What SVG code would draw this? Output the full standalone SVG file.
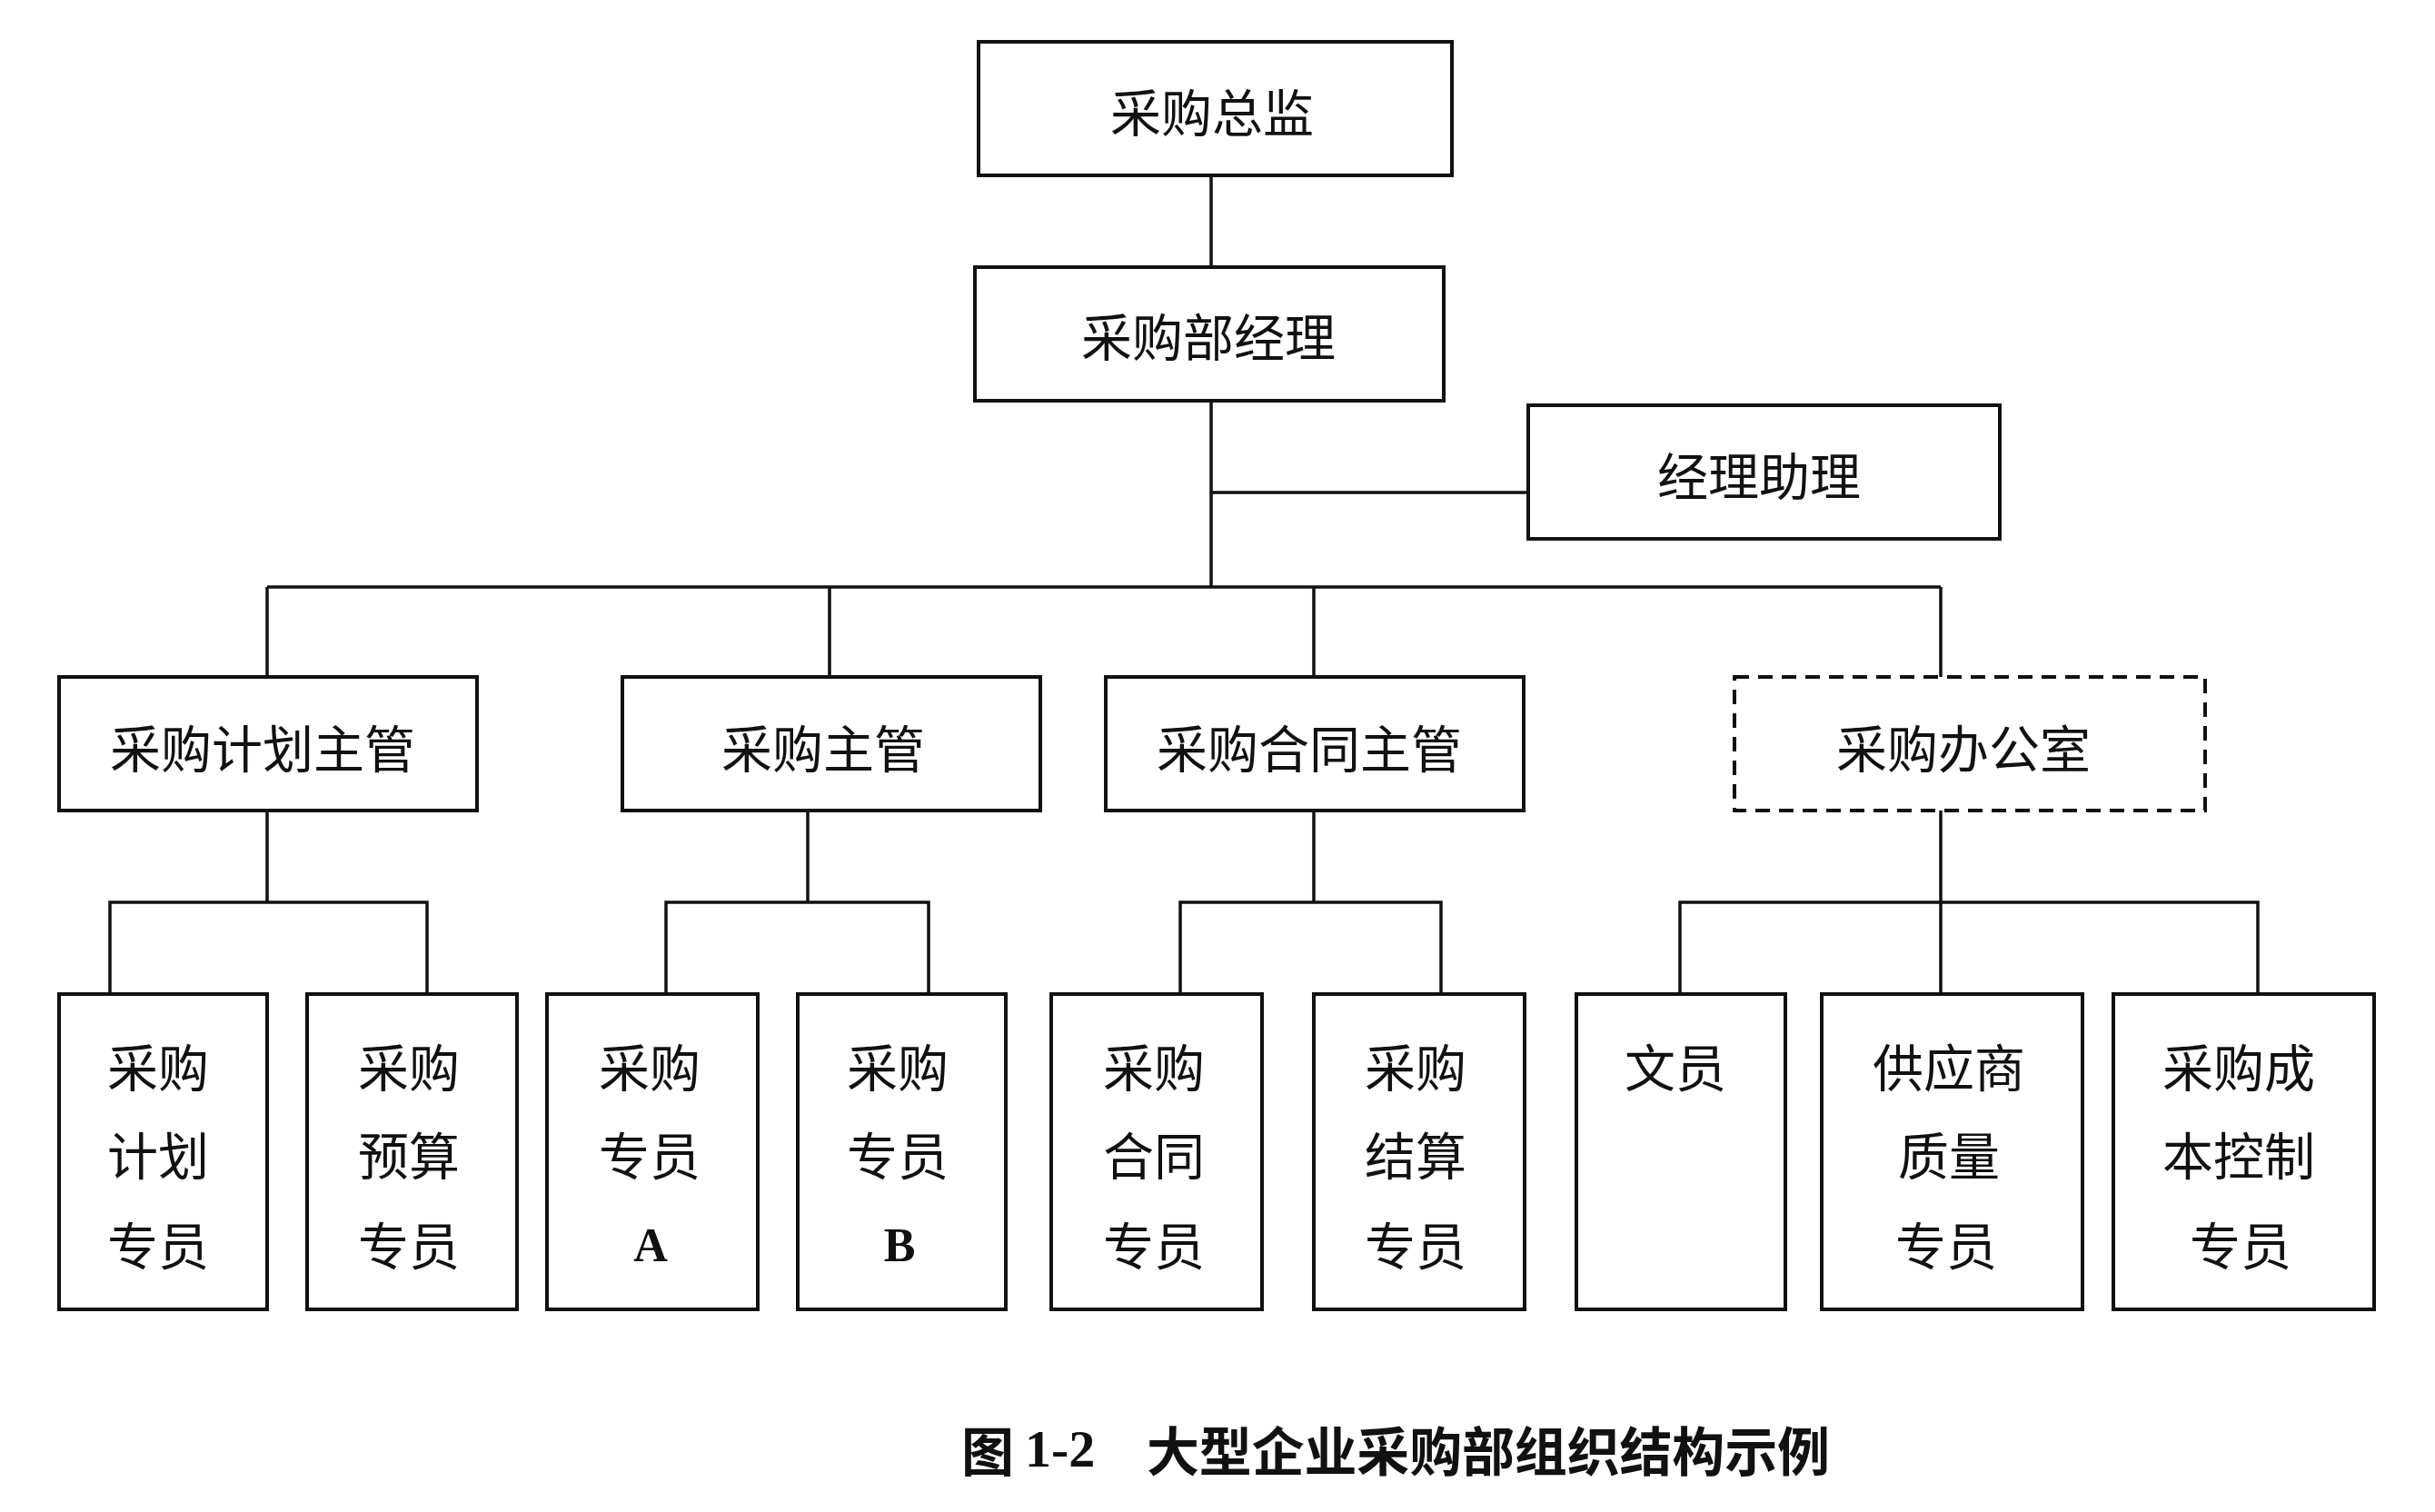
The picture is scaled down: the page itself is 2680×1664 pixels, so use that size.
<svg xmlns="http://www.w3.org/2000/svg" width="2680" height="1664" viewBox="0 0 2680 1664">
<style>
.box{fill:#fff;stroke:#111;stroke-width:4}
.dash{fill:#fff;stroke:#111;stroke-width:4;stroke-dasharray:16 10}
.t{font-family:"Noto Sans CJK SC","Noto Sans",sans-serif;font-size:56px;fill:#111;text-anchor:middle;dominant-baseline:central}
.s{font-family:"Liberation Serif","Noto Sans CJK SC",serif;font-size:52px;font-weight:bold;fill:#111;text-anchor:middle;dominant-baseline:central}
.cap{font-family:"Noto Sans CJK SC",sans-serif;font-size:58px;font-weight:bold;fill:#111;dominant-baseline:central}
.capn{font-family:"Liberation Serif",serif;font-size:58px;font-weight:bold;fill:#111;dominant-baseline:central}
.ln{fill:none;stroke:#111;stroke-width:3.5}
</style>
<rect width="2680" height="1664" fill="#fff"/>
<g id="connectors" class="ln">
<path d="M1333 193V294"/>
<path d="M1333 441V646"/>
<path d="M1333 542H1682"/>
<path d="M294 646H2136"/>
<path d="M294 646V745M913 646V745M1446 646V745M2136 646V745"/>
<path d="M294 892V993M889 892V993M1446 892V993M2136 892V993"/>
<path d="M121 1094V993H470V1094"/>
<path d="M733 1094V993H1022V1094"/>
<path d="M1299 1094V993H1586V1094"/>
<path d="M1849 1094V993H2485V1094M2136 993V1094"/>
</g>
<g id="n-director"><rect class="box" x="1077" y="46" width="521" height="147"/><text class="t" x="1334" y="120">采购总监</text></g>
<g id="n-manager"><rect class="box" x="1073" y="294" width="516" height="147"/><text class="t" x="1330" y="367">采购部经理</text></g>
<g id="n-assistant"><rect class="box" x="1682" y="446" width="519" height="147"/><text class="t" x="1936" y="520">经理助理</text></g>
<g id="n-plan"><rect class="box" x="65" y="745" width="460" height="147"/><text class="t" x="289" y="820">采购计划主管</text></g>
<g id="n-purchase"><rect class="box" x="685" y="745" width="460" height="147"/><text class="t" x="906" y="820">采购主管</text></g>
<g id="n-contract"><rect class="box" x="1217" y="745" width="460" height="147"/><text class="t" x="1441" y="820">采购合同主管</text></g>
<g id="n-office"><rect class="dash" x="1909" y="745" width="518" height="147"/><text class="t" x="2161" y="820">采购办公室</text></g>
<g id="n-s1"><rect class="box" x="65" y="1094" width="229" height="347"/><text class="t" x="174" y="1171">采购</text><text class="t" x="174" y="1268">计划</text><text class="t" x="174" y="1367">专员</text></g>
<g id="n-s2"><rect class="box" x="338" y="1094" width="231" height="347"/><text class="t" x="450" y="1171">采购</text><text class="t" x="450" y="1268">预算</text><text class="t" x="450" y="1367">专员</text></g>
<g id="n-s3"><rect class="box" x="602" y="1094" width="232" height="347"/><text class="t" x="715" y="1171">采购</text><text class="t" x="715" y="1268">专员</text><text class="s" x="716" y="1370">A</text></g>
<g id="n-s4"><rect class="box" x="878" y="1094" width="229" height="347"/><text class="t" x="988" y="1171">采购</text><text class="t" x="988" y="1268">专员</text><text class="s" x="990" y="1370">B</text></g>
<g id="n-s5"><rect class="box" x="1157" y="1094" width="232" height="347"/><text class="t" x="1270" y="1171">采购</text><text class="t" x="1270" y="1268">合同</text><text class="t" x="1270" y="1367">专员</text></g>
<g id="n-s6"><rect class="box" x="1446" y="1094" width="232" height="347"/><text class="t" x="1558" y="1171">采购</text><text class="t" x="1558" y="1268">结算</text><text class="t" x="1558" y="1367">专员</text></g>
<g id="n-s7"><rect class="box" x="1735" y="1094" width="230" height="347"/><text class="t" x="1844" y="1171">文员</text></g>
<g id="n-s8"><rect class="box" x="2005" y="1094" width="287" height="347"/><text class="t" x="2145" y="1171">供应商</text><text class="t" x="2145" y="1268">质量</text><text class="t" x="2142" y="1367">专员</text></g>
<g id="n-s9"><rect class="box" x="2326" y="1094" width="287" height="347"/><text class="t" x="2464" y="1171">采购成</text><text class="t" x="2464" y="1268">本控制</text><text class="t" x="2466" y="1367">专员</text></g>
<g id="caption"><text class="cap" x="1058" y="1594">图</text><text class="capn" x="1128" y="1594">1-2</text><text class="cap" x="1262" y="1594" textLength="752">大型企业采购部组织结构示例</text></g>
</svg>
